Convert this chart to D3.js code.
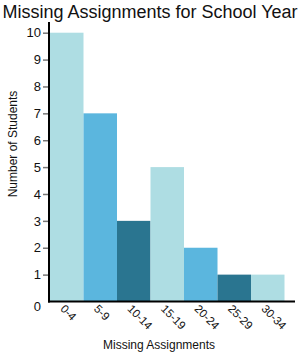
<!DOCTYPE html>
<html>
<head>
<meta charset="utf-8">
<script src="https://cdn.jsdelivr.net/npm/d3@7"></script>
<style>
  body { margin: 0; background: #fff; }
  text { font-family: "Liberation Sans", Arial, sans-serif; fill: #111; }
</style>
</head>
<body>
<div id="chart"></div>
<script>
// data
var categories = ['0-4', '5-9', '10-14', '15-19', '20-24', '25-29', '30-34'];
var students = [10, 7, 3, 5, 2, 1, 1];
var yTicks = [1, 2, 3, 4, 5, 6, 7, 8, 9, 10];
var barColors = ['#aedde3', '#5bb6de', '#2a7590'];

var chart_width = 300;
var chart_height = 354;
var plotLeft = 50, plotTop = 32.7, plotW = 234.5, plotBottom = 301.5;

var svg = d3.select('#chart')
    .append('svg')
    .attr('width', chart_width)
    .attr('height', chart_height);

var x = d3.scaleBand()
    .domain(categories)
    .range([plotLeft, plotLeft + plotW])
    .padding(0);

var y = d3.scaleLinear()
    .domain([0, 10])
    .range([plotBottom, plotTop]);

// bars
svg.selectAll('rect.bar')
    .data(students)
    .enter()
    .append('rect')
    .attr('class', 'bar')
    .attr('x', function(d, i) { return x(categories[i]); })
    .attr('y', function(d) { return y(d); })
    .attr('width', x.bandwidth())
    .attr('height', function(d) { return y(0) - y(d); })
    .attr('fill', function(d, i) { return barColors[i % 3]; });

// y axis
var yAxis = svg.append('g')
    .attr('transform', 'translate(' + (plotLeft - 1) + ',0)')
    .call(d3.axisLeft(y).tickValues(yTicks).tickSize(6).tickPadding(2));
yAxis.select('.domain').remove();
yAxis.selectAll('line').attr('stroke', '#777').attr('stroke-width', 1.5);
yAxis.selectAll('text')
    .style('font-size', '13px')
    .style('font-family', '"Liberation Sans", Arial, sans-serif')
    .attr('fill', '#111');

svg.append('line')
    .attr('x1', plotLeft - 1).attr('x2', plotLeft - 1)
    .attr('y1', 22).attr('y2', plotBottom + 1)
    .attr('stroke', '#000').attr('stroke-width', 2);

// zero label sits below the axis
svg.append('text')
    .attr('x', 41).attr('y', 311)
    .attr('text-anchor', 'end')
    .style('font-size', '13px')
    .text('0');

// x axis
svg.append('line')
    .attr('x1', plotLeft - 2).attr('x2', 295)
    .attr('y1', plotBottom).attr('y2', plotBottom)
    .attr('stroke', '#000').attr('stroke-width', 2);

svg.selectAll('text.xlab')
    .data(categories)
    .enter()
    .append('text')
    .attr('class', 'xlab')
    .attr('transform', function(d) {
        var cx = x(d) + x.bandwidth() / 2 - 7;
        return 'translate(' + cx + ',' + (plotBottom + 8) + ') rotate(45)';
    })
    .style('font-size', '11.5px')
    .text(function(d) { return d; });

// titles
svg.append('text')
    .attr('x', 150).attr('y', 18)
    .attr('text-anchor', 'middle')
    .style('font-size', '18px')
    .text('Missing Assignments for School Year');

svg.append('text')
    .attr('transform', 'translate(17,144) rotate(-90)')
    .attr('text-anchor', 'middle')
    .style('font-size', '12px')
    .text('Number of Students');

svg.append('text')
    .attr('x', 159).attr('y', 349)
    .attr('text-anchor', 'middle')
    .style('font-size', '12px')
    .text('Missing Assignments');
</script>
</body>
</html>
